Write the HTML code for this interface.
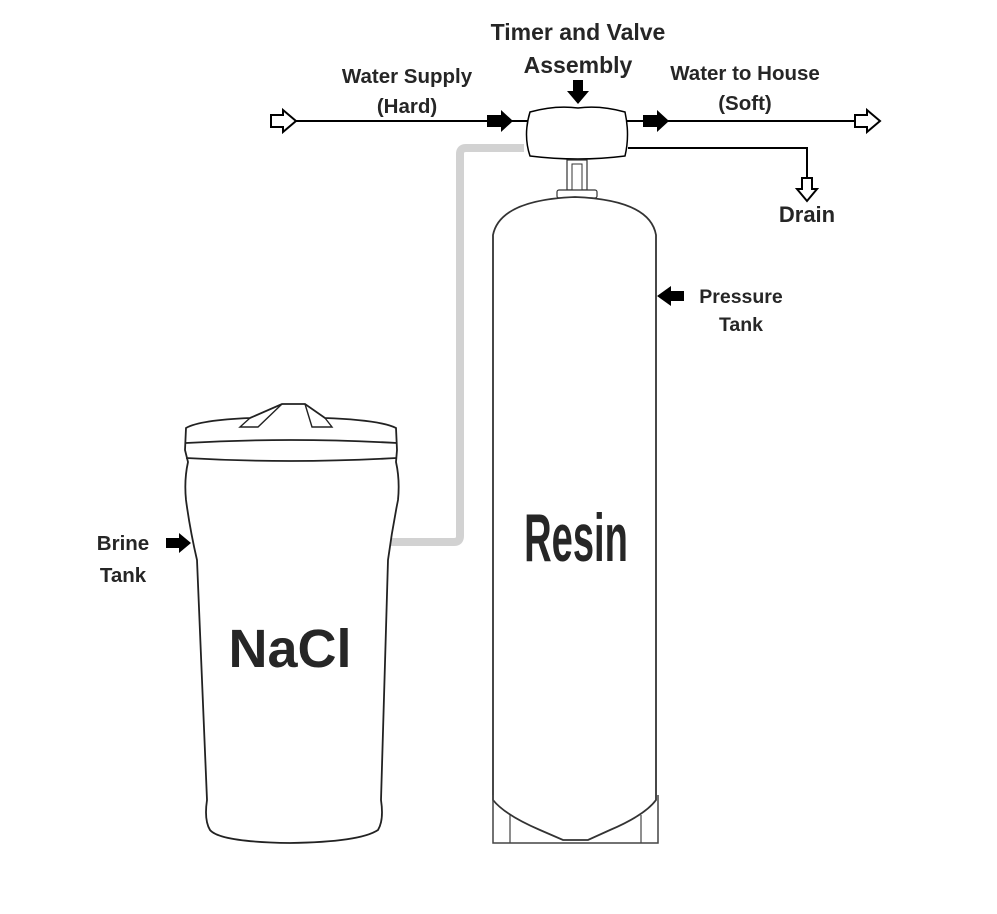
<!DOCTYPE html>
<html><head><style>
html,body{margin:0;padding:0;background:#fff;width:997px;height:914px;overflow:hidden}
text{font-family:"Liberation Sans",sans-serif;font-weight:bold;fill:#262626}
</style></head><body>
<svg width="997" height="914" viewBox="0 0 997 914">
<path d="M524 148 L466 148 Q460 148 460 154 L460 536 Q460 542 454 542 L390 542" fill="none" stroke="#d2d2d2" stroke-width="8"/>
<line x1="292" y1="121" x2="858" y2="121" stroke="#000" stroke-width="2"/>
<path d="M628 148 L807 148 L807 180" fill="none" stroke="#000" stroke-width="2"/>
<path d="M271 115 L283 115 L283 110 L296 121 L283 132 L283 127 L271 127 Z" fill="#fff" stroke="#000" stroke-width="2"/>
<path d="M855 115 L867 115 L867 110 L880 121 L867 132 L867 127 L855 127 Z" fill="#fff" stroke="#000" stroke-width="2"/>
<path d="M802 178 L802 189 L797 189 L807 201 L817 189 L812 189 L812 178 Z" fill="#fff" stroke="#000" stroke-width="2"/>
<path d="M487 115 L501 115 L501 110 L513 121 L501 132 L501 127 L487 127 Z" fill="#000"/>
<path d="M643 115 L657 115 L657 110 L669 121 L657 132 L657 127 L643 127 Z" fill="#000"/>
<path d="M573 80 L583 80 L583 91 L589 91 L578 104 L567 91 L573 91 Z" fill="#000"/>
<path d="M166 538 L179 538 L179 533 L191 543 L179 553 L179 548 L166 548 Z" fill="#000"/>
<path d="M684 291 L671 291 L671 286 L657 296 L671 306 L671 301 L684 301 Z" fill="#000"/>
<path d="M530 112 Q555 105 578 108 Q600 105 625 112 Q630 135 625 156 Q578 162 530 156 Q523 135 530 112 Z" fill="#fff" stroke="#000" stroke-width="1.5"/>
<rect x="567" y="160" width="20" height="30" fill="#fff" stroke="#333" stroke-width="1.2"/>
<rect x="572" y="164" width="10" height="26" fill="#fff" stroke="#333" stroke-width="1"/>
<rect x="557" y="190" width="40" height="8" rx="2" fill="#fff" stroke="#333" stroke-width="1.2"/>
<rect x="562" y="198" width="30" height="9" fill="#fff" stroke="#333" stroke-width="1.2"/>
<path d="M493 800 L493 235 Q500 200 575 197 Q650 200 656 235 L656 800 Q645 815 610 830 L588 840 L563 840 L540 830 Q505 815 493 800 Z" fill="#fff" stroke="#333" stroke-width="1.8"/>
<path d="M493 795 L493 843 L658 843 L658 795" fill="none" stroke="#444" stroke-width="1.5"/>
<line x1="510" y1="815" x2="510" y2="843" stroke="#444" stroke-width="1.2"/>
<line x1="641" y1="815" x2="641" y2="843" stroke="#444" stroke-width="1.2"/>
<path d="M186 428 Q200 420 250 418 L282 404 L305 404 L325 418 Q380 420 396 428 L397 450 L396 462 Q400 480 398 500 Q392 530 388 560 L381 800 Q384 820 378 830 Q360 842 290 843 Q220 842 210 830 Q204 820 207 800 L197 560 Q190 530 186 500 Q184 480 188 462 L185 450 Z" fill="#fff" stroke="#222" stroke-width="1.8"/>
<path d="M186 443 Q290 437 397 443" fill="none" stroke="#222" stroke-width="1.8"/>
<path d="M186 458 Q290 464 397 458" fill="none" stroke="#222" stroke-width="1.8"/>
<path d="M250 418 L240 427 L258 427 L282 404 M325 418 L332 427 L312 427 L305 404" fill="none" stroke="#222" stroke-width="1.4"/>
<text x="578" y="40" font-size="23" text-anchor="middle">Timer and Valve</text>
<text x="578" y="73" font-size="23" text-anchor="middle">Assembly</text>
<text x="407" y="83" font-size="20.5" text-anchor="middle">Water Supply</text>
<text x="407" y="113" font-size="20.5" text-anchor="middle">(Hard)</text>
<text x="745" y="80" font-size="20.5" text-anchor="middle">Water to House</text>
<text x="745" y="110" font-size="20.5" text-anchor="middle">(Soft)</text>
<text x="807" y="222" font-size="22" text-anchor="middle">Drain</text>
<text x="741" y="303" font-size="19.5" text-anchor="middle">Pressure</text>
<text x="741" y="331" font-size="19.5" text-anchor="middle">Tank</text>
<text x="123" y="550" font-size="20.5" text-anchor="middle">Brine</text>
<text x="123" y="582" font-size="20.5" text-anchor="middle">Tank</text>
<text x="290" y="667" font-size="54" text-anchor="middle">NaCl</text>
<text x="0" y="0" font-size="68" text-anchor="middle" transform="translate(576 561) scale(0.56 1)">Resin</text>
</svg>
</body></html>
